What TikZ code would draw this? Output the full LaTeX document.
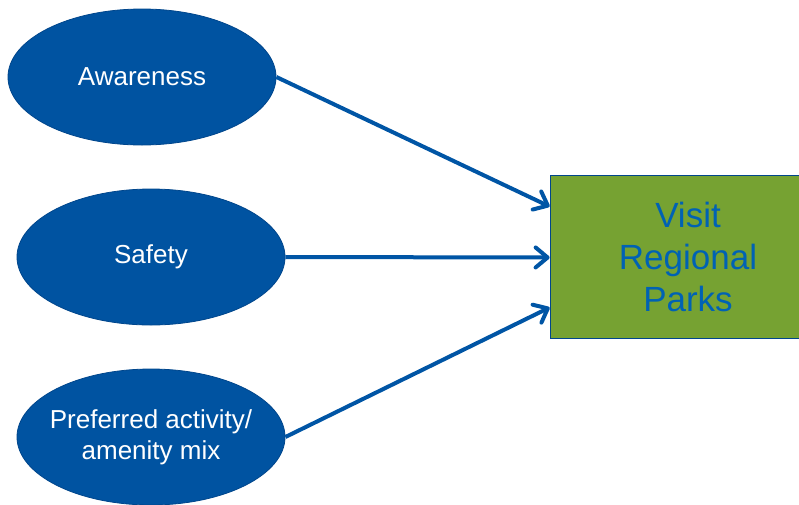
\documentclass[tikz,border=0pt]{standalone}
\usepackage{fontspec}
\setmainfont{Liberation Sans}
\usetikzlibrary{shapes.geometric,arrows.meta,calc}
\definecolor{ovalblue}{HTML}{0053A1}
\definecolor{ovaledge}{HTML}{00468C}
\definecolor{linkblue}{HTML}{0055A5}
\definecolor{parkgreen}{HTML}{76A232}
\definecolor{parktext}{HTML}{0062B4}
\begin{document}
\begin{tikzpicture}[x=1pt,y=-1pt,
  factor/.style={ellipse,fill=ovalblue,draw=ovaledge,line width=0.8pt,
    minimum width=268pt,minimum height=136pt,inner xsep=-40pt,inner ysep=0pt,
    text=white,align=center,font=\fontsize{26}{31}\selectfont},
  outcome/.style={rectangle,fill=parkgreen,draw=ovaledge,line width=0.8pt,
    minimum width=276pt,minimum height=163pt,inner sep=0pt,
    text=parktext,align=center,font=\fontsize{35}{42}\selectfont},
  link/.style={draw=linkblue,line width=4pt,
    -{Straight Barb[length=12pt,width=20pt,line width=4pt,round]}}]
\useasboundingbox (0,0) rectangle (799,504);
\begin{scope}
\clip (0,0) rectangle (799,504);
\node[factor] (aw) at (142,77) {Awareness};
\node[factor] (sf) at (151,257) {Safety};
\node[factor] (pa) at (151,437) {Preferred activity/\\amenity mix};
\node[outcome] (vp) at (688,256.5) {Visit\\Regional\\Parks};
\end{scope}
\draw[link] (aw.east) -- ([yshift=50pt]vp.west);
\draw[link] (sf.east) -- ([yshift=-1pt]vp.west);
\draw[link] (pa.east) -- ([yshift=-51pt]vp.west);
\end{tikzpicture}
\end{document}
